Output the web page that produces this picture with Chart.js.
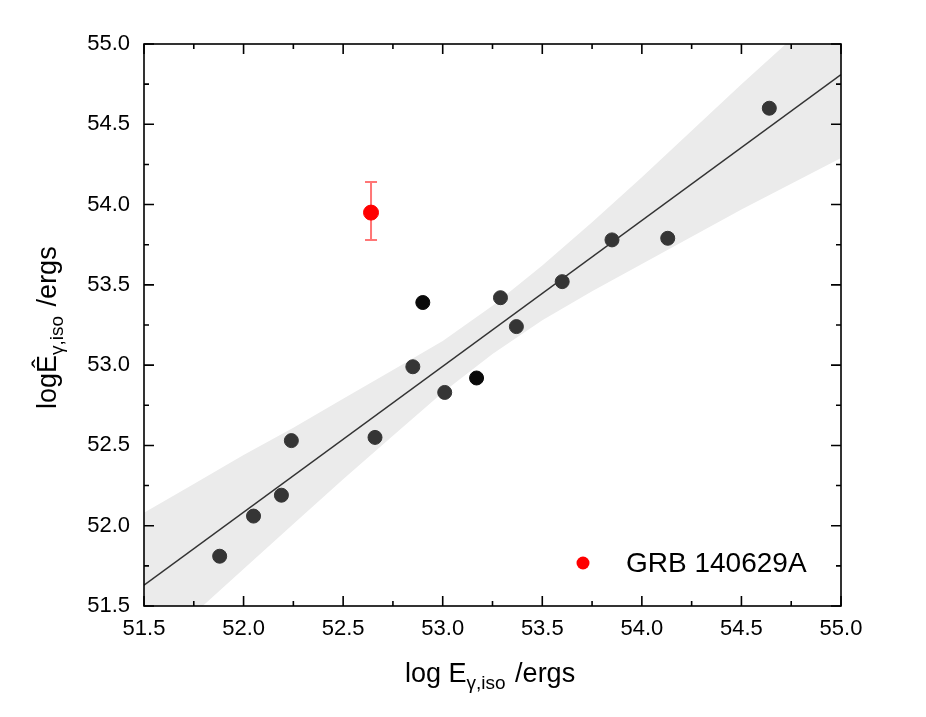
<!DOCTYPE html>
<html>
<head>
<meta charset="utf-8">
<script src="https://cdn.jsdelivr.net/npm/chart.js@4.4.1/dist/chart.umd.min.js"></script>
<style>
  html, body { margin: 0; background: #fff; }
</style>
</head>
<body>
<canvas id="chart" width="926" height="717"></canvas>
<script>
// sample GRBs
const grbX = [51.88, 52.05, 52.19, 52.24, 52.66, 52.85, 53.01, 53.29, 53.37, 53.60, 53.85, 54.13, 54.64];
const grbY = [51.81, 52.06, 52.19, 52.53, 52.55, 52.99, 52.83, 53.42, 53.24, 53.52, 53.78, 53.79, 54.60];
const darkX = [52.90, 53.17];
const darkY = [53.39, 52.92];

// GRB 140629A with its error bar
const outX = [52.64];
const outY = [53.95];
const outLo = [53.78];
const outHi = [54.14];

// fitted line and confidence band
const fitX = [51.5, 55.0];
const fitY = [51.63, 54.81];
const bandX = [51.5, 51.75, 52.0, 52.25, 52.5, 52.75, 53.0, 53.25, 53.5, 53.75, 54.0, 54.25, 54.5, 54.75, 55.0];
const bandUp = [52.08, 52.26, 52.44, 52.61, 52.79, 52.97, 53.15, 53.37, 53.62, 53.89, 54.17, 54.46, 54.75, 55.03, 55.33];
const bandLo = [51.17, 51.45, 51.73, 52.01, 52.29, 52.56, 52.83, 53.07, 53.28, 53.46, 53.63, 53.80, 53.97, 54.13, 54.29];

const axisMin = 51.5;
const axisMax = 55.0;
const tickStep = 0.5;

const pts = (xs, ys) => xs.map((x, i) => ({ x: x, y: ys[i] }));

const decor = {
    id: 'decor',
    beforeDatasetsDraw(chart) {
        // error bar of the red point (under the marker)
        const ctx = chart.ctx, sx = chart.scales.x, sy = chart.scales.y;
        ctx.save();
        ctx.strokeStyle = 'rgba(255,60,60,0.7)';
        ctx.lineWidth = 2;
        outX.forEach((x, i) => {
            const px = sx.getPixelForValue(x);
            const y1 = sy.getPixelForValue(outLo[i]);
            const y2 = sy.getPixelForValue(outHi[i]);
            ctx.beginPath();
            ctx.moveTo(px, y1); ctx.lineTo(px, y2);
            ctx.moveTo(px - 6, y1); ctx.lineTo(px + 6, y1);
            ctx.moveTo(px - 6, y2); ctx.lineTo(px + 6, y2);
            ctx.stroke();
        });
        ctx.restore();
    },
    afterDraw(chart) {
        const ctx = chart.ctx, a = chart.chartArea;
        const sx = chart.scales.x, sy = chart.scales.y;
        ctx.save();
        // frame
        ctx.strokeStyle = '#000';
        ctx.lineWidth = 1.6;
        ctx.strokeRect(a.left, a.top, a.right - a.left, a.bottom - a.top);
        // inward ticks on all four sides
        ctx.beginPath();
        for (let v = axisMin; v <= axisMax + 1e-9; v += tickStep / 2) {
            const major = Math.abs(Math.round(v / tickStep) * tickStep - v) < 1e-6;
            const len = major ? 10 : 5;
            const px = sx.getPixelForValue(v);
            const py = sy.getPixelForValue(v);
            ctx.moveTo(px, a.bottom); ctx.lineTo(px, a.bottom - len);
            ctx.moveTo(px, a.top); ctx.lineTo(px, a.top + len);
            ctx.moveTo(a.left, py); ctx.lineTo(a.left + len, py);
            ctx.moveTo(a.right, py); ctx.lineTo(a.right - len, py);
        }
        ctx.stroke();

        // legend
        ctx.fillStyle = '#ff0000';
        ctx.beginPath();
        ctx.arc(583, 563, 6.5, 0, Math.PI * 2);
        ctx.fill();
        ctx.fillStyle = '#000';
        ctx.font = '28px "Liberation Sans", Arial, sans-serif';
        ctx.textBaseline = 'middle';
        ctx.textAlign = 'left';
        ctx.fillText('GRB 140629A', 626, 564);

        // axis titles with subscripts
        ctx.textBaseline = 'alphabetic';
        const mainFont = '27px "Liberation Sans", Arial, sans-serif';
        const subFont = '19px "Liberation Sans", Arial, sans-serif';
        function title(x, y, rot, a1, sub, a2) {
            ctx.save();
            ctx.translate(x, y);
            ctx.rotate(rot);
            ctx.font = mainFont;
            ctx.fillText(a1, 0, 0);
            let w = ctx.measureText(a1).width;
            ctx.font = subFont;
            ctx.fillText(sub, w, 7);
            w += ctx.measureText(sub).width + 2;
            ctx.font = mainFont;
            ctx.fillText(a2, w, 0);
            ctx.restore();
        }
        title(405, 682, 0, 'log E', 'γ,iso', ' /ergs');
        title(56, 409, -Math.PI / 2, 'logÊ', 'γ,iso', ' /ergs');
        ctx.restore();
    }
};

const tickFont = { family: '"Liberation Sans", Arial, sans-serif', size: 22 };

new Chart(document.getElementById('chart'), {
    type: 'scatter',
    data: {
        datasets: [
            {
                label: 'band low',
                data: pts(bandX, bandLo),
                showLine: true,
                borderWidth: 0,
                borderColor: 'rgba(0,0,0,0)',
                pointRadius: 0,
                fill: false,
                order: 10
            },
            {
                label: 'band high',
                data: pts(bandX, bandUp),
                showLine: true,
                borderWidth: 0,
                borderColor: 'rgba(0,0,0,0)',
                backgroundColor: '#ebebeb',
                pointRadius: 0,
                fill: '-1',
                order: 9
            },
            {
                label: 'fit',
                data: pts(fitX, fitY),
                showLine: true,
                borderColor: '#333',
                borderWidth: 1.5,
                pointRadius: 0,
                order: 5
            },
            {
                label: 'GRBs',
                data: pts(grbX, grbY),
                backgroundColor: '#353535',
                borderColor: '#353535',
                pointRadius: 7,
                order: 2
            },
            {
                label: 'GRBs dark',
                data: pts(darkX, darkY),
                backgroundColor: '#0a0a0a',
                borderColor: '#0a0a0a',
                pointRadius: 7,
                order: 2
            },
            {
                label: 'GRB 140629A',
                data: pts(outX, outY),
                backgroundColor: '#ff0000',
                borderColor: '#ff0000',
                pointRadius: 7.5,
                order: 1
            }
        ]
    },
    options: {
        responsive: false,
        animation: false,
        devicePixelRatio: 1,
        layout: { padding: { top: 44, right: 85, left: 0, bottom: 0 } },
        plugins: {
            legend: { display: false },
            tooltip: { enabled: false }
        },
        scales: {
            x: {
                type: 'linear',
                min: axisMin,
                max: axisMax,
                grid: { display: false, drawTicks: false },
                border: { display: false },
                ticks: {
                    stepSize: tickStep,
                    color: '#000',
                    font: tickFont,
                    padding: 10,
                    maxRotation: 0,
                    callback: v => v.toFixed(1)
                },
                afterFit: s => { s.height = 111; }
            },
            y: {
                type: 'linear',
                min: axisMin,
                max: axisMax,
                grid: { display: false, drawTicks: false },
                border: { display: false },
                ticks: {
                    stepSize: tickStep,
                    color: '#000',
                    font: tickFont,
                    padding: 14,
                    callback: v => v.toFixed(1)
                },
                afterFit: s => { s.width = 144; }
            }
        }
    },
    plugins: [decor]
});
</script>
</body>
</html>
